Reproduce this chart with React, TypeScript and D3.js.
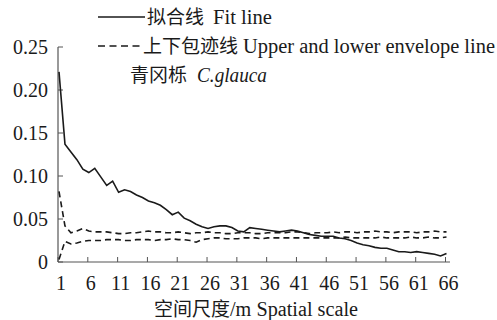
import React from "react";
import * as d3 from "d3";

// spatial scale (m)
const scales = d3.range(1, 67);

// fitted line
const fitValues = [
  0.221, 0.137, 0.128, 0.119, 0.108, 0.104, 0.109, 0.099, 0.089, 0.094,
  0.081, 0.084, 0.082, 0.078, 0.075, 0.071, 0.069, 0.066, 0.061, 0.055,
  0.058, 0.051, 0.048, 0.044, 0.041, 0.039, 0.041, 0.042, 0.042, 0.04,
  0.036, 0.035, 0.04, 0.039, 0.038, 0.037, 0.036, 0.035, 0.036, 0.037,
  0.036, 0.034, 0.032, 0.031, 0.03, 0.03, 0.03, 0.028, 0.027, 0.025,
  0.022, 0.02, 0.019, 0.017, 0.016, 0.016, 0.014, 0.012, 0.012, 0.011,
  0.012, 0.011, 0.01, 0.009, 0.007, 0.01,
];

// upper envelope
const upperValues = [
  0.082, 0.042, 0.034, 0.036, 0.039, 0.036, 0.035, 0.035, 0.035, 0.034,
  0.033, 0.033, 0.034, 0.034, 0.035, 0.036, 0.035, 0.035, 0.034, 0.034,
  0.035, 0.034, 0.033, 0.034, 0.034, 0.035, 0.034, 0.034, 0.033, 0.033,
  0.034, 0.034, 0.034, 0.033, 0.033, 0.034, 0.034, 0.034, 0.034, 0.035,
  0.035, 0.034, 0.033, 0.034, 0.034, 0.034, 0.035, 0.034, 0.035, 0.035,
  0.034, 0.035, 0.035, 0.036, 0.035, 0.035, 0.034, 0.035, 0.035, 0.035,
  0.034, 0.035, 0.035, 0.036, 0.035, 0.035,
];

// lower envelope
const lowerValues = [
  0.003, 0.024, 0.021, 0.022, 0.024, 0.025, 0.025, 0.025, 0.026, 0.026,
  0.026, 0.025, 0.025, 0.026, 0.026, 0.026, 0.025, 0.026, 0.026, 0.027,
  0.026, 0.026, 0.025, 0.023, 0.026, 0.027, 0.028, 0.028, 0.027, 0.027,
  0.027, 0.028, 0.028, 0.028, 0.027, 0.028, 0.028, 0.028, 0.028, 0.028,
  0.028, 0.028, 0.028, 0.028, 0.028, 0.028, 0.028, 0.028, 0.029, 0.028,
  0.028, 0.028, 0.028, 0.028, 0.029, 0.028, 0.028, 0.028, 0.028, 0.029,
  0.028, 0.028, 0.029, 0.028, 0.028, 0.029,
];

const xTicks = [1, 6, 11, 16, 21, 26, 31, 36, 41, 46, 51, 56, 61, 66];
const yTicks = [0, 0.05, 0.1, 0.15, 0.2, 0.25];
const yTickLabels = ["0", "0.05", "0.10", "0.15", "0.20", "0.25"];

const W = 497;
const H = 320;
const serif = "Liberation Serif";
const cjk = "Noto Sans CJK SC";
const ink = "#1a1a1a";
const axisColor = "#555";

export default function App() {
  const x = d3.scaleLinear().domain([1, 66]).range([59, 446.5]);
  const y = d3.scaleLinear().domain([0, 0.25]).range([262, 47]);

  const line = d3
    .line<number>()
    .x((_, i) => x(scales[i]))
    .y((d) => y(d));

  return (
    <svg
      width={W}
      height={H}
      style={{ position: "absolute", left: 0, top: 0, background: "#fff" }}
    >
      {/* axes */}
      <line x1={58} x2={58} y1={47} y2={262} stroke={axisColor} strokeWidth={1.2} />
      <line x1={58} x2={450} y1={262} y2={262} stroke={axisColor} strokeWidth={1.2} />
      {yTicks.map((t, i) => (
        <g key={t}>
          <line x1={58} x2={63} y1={y(t)} y2={y(t)} stroke={axisColor} strokeWidth={1} />
          <text x={48} y={y(t) + 6.5} textAnchor="end" fontSize={20} fill={ink} style={{ fontFamily: serif }}>
            {yTickLabels[i]}
          </text>
        </g>
      ))}
      {xTicks.map((t) => (
        <g key={t}>
          <line x1={x(t) - 1} x2={x(t) - 1} y1={262} y2={257} stroke={axisColor} strokeWidth={1} />
          <text x={x(t) + 2} y={290} textAnchor="middle" fontSize={20} fill={ink} style={{ fontFamily: serif }}>
            {t}
          </text>
        </g>
      ))}

      {/* series */}
      <path d={line(upperValues) || ""} fill="none" stroke={ink} strokeWidth={1.6} strokeDasharray="6,4" />
      <path d={line(lowerValues) || ""} fill="none" stroke={ink} strokeWidth={1.6} strokeDasharray="6,4" />
      <path d={line(fitValues) || ""} fill="none" stroke={ink} strokeWidth={1.6} />

      {/* legend */}
      <line x1={98} x2={145} y1={17} y2={17} stroke={ink} strokeWidth={1.6} />
      <text x={147} y={24} fontSize={19} fill={ink} style={{ fontFamily: cjk }}>拟合线</text>
      <text x={213} y={24} fontSize={20} fill={ink} style={{ fontFamily: serif }} textLength={59} lengthAdjust="spacingAndGlyphs">Fit line</text>

      <line x1={98} x2={143} y1={46} y2={46} stroke={ink} strokeWidth={1.6} strokeDasharray="7,4.5" />
      <text x={143} y={53} fontSize={19} fill={ink} style={{ fontFamily: cjk }}>上下包迹线</text>
      <text x={243} y={53} fontSize={20} fill={ink} style={{ fontFamily: serif }} textLength={252} lengthAdjust="spacingAndGlyphs">Upper and lower envelope line</text>

      <text x={130} y={82} fontSize={19} fill={ink} style={{ fontFamily: cjk }}>青冈栎</text>
      <text x={197} y={82} fontSize={20} fill={ink} fontStyle="italic" style={{ fontFamily: serif }} textLength={70} lengthAdjust="spacingAndGlyphs">C.glauca</text>

      {/* x axis title */}
      <text x={154} y={316} fontSize={19} fill={ink} style={{ fontFamily: cjk }}>空间尺度</text>
      <text x={230} y={316} fontSize={20} fill={ink} style={{ fontFamily: serif }} textLength={128} lengthAdjust="spacingAndGlyphs">/m Spatial scale</text>
    </svg>
  );
}
